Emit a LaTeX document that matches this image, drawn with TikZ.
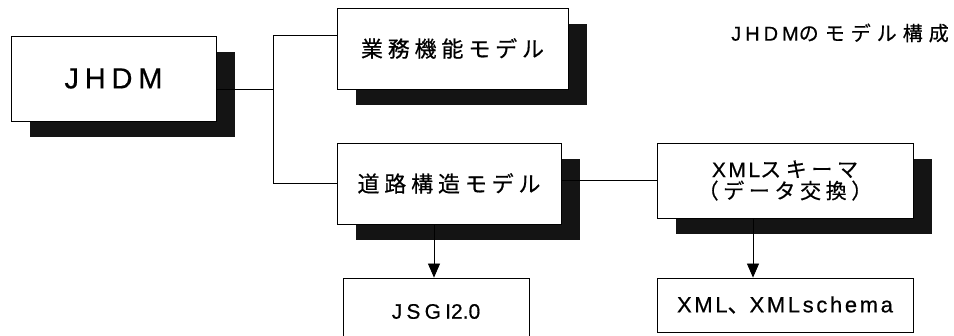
\documentclass[tikz,border=0pt]{standalone}
\usepackage{fontspec}
\setmainfont{Noto Sans CJK JP}
\newfontfamily\jpn[LetterSpace=22,FakeBold=0.5]{Noto Sans CJK JP}
\newfontfamily\jpnw[LetterSpace=30,FakeBold=0.5]{Noto Sans CJK JP}
\newfontfamily\lat[LetterSpace=20,FakeBold=0.5]{Liberation Sans}
\newfontfamily\latb[LetterSpace=12,FakeBold=0.5]{Liberation Sans}
\newfontfamily\latn[FakeBold=0.5]{Liberation Sans}
\usetikzlibrary{shadows,arrows.meta}
\tikzset{
  box/.style={draw, line width=0.8pt, fill=white, inner sep=0pt, align=center},
  shbox/.style={box, drop shadow={shadow xshift=19pt, shadow yshift=-16.5pt, opacity=1, fill=black!92}},
  conn/.style={line width=0.8pt},
  arr/.style={line width=0.8pt, -{Triangle[width=12pt,length=14pt]}}
}
\begin{document}
\begin{tikzpicture}[x=1pt,y=-1pt]
\useasboundingbox (0,0) rectangle (954,336);
\node[shbox, minimum width=205pt, minimum height=85pt, font=\fontsize{29}{30}\selectfont] (jhdm) at (113.5,78.5) {\lat JHDM};
\node[shbox, minimum width=231pt, minimum height=81pt, font=\fontsize{22}{24}\selectfont] (gyomu) at (452.5,48.5) {\jpn 業務機能モデル};
\node[shbox, minimum width=224pt, minimum height=81pt, font=\fontsize{22}{24}\selectfont] (doro) at (449,183.5) {\jpn 道路構造モデル};
\node[shbox, minimum width=256pt, minimum height=75pt, font=\fontsize{21}{21.5}\selectfont] (xmls) at (785,180.5) {{\latb XML}{\jpn スキーマ}\\{\jpn （データ交換）}};
\node[box, minimum width=186pt, minimum height=67pt, font=\fontsize{21}{23}\selectfont] (jsgi) at (436,311.5) {{\lat JSGI}{\latn 2.0}};
\node[box, minimum width=256pt, minimum height=54pt, font=\fontsize{22}{24}\selectfont] (xsch) at (785,305) {{\latb XML}{\jpn 、}{\latb XMLschema}};
\node[font=\fontsize{20}{22}\selectfont] (title) at (840,33) {{\lat JHDM}{\jpnw のモデル構成}};
\coordinate (jn) at (273,89);
\draw[conn] ([yshift=-10.5pt]jhdm.east) -- (jn);
\draw[conn] ([yshift=13.5pt]gyomu.west) -| (jn |- doro.west) -- (doro.west);
\draw[conn] (doro.east |- xmls.west) -- (xmls.west);
\draw[arr] ([xshift=-2pt]jsgi.north |- doro.south) -- ([xshift=-2pt]jsgi.north);
\draw[arr] ([xshift=-32pt]xmls.south) -- ([xshift=-32pt]xsch.north);
\end{tikzpicture}
\end{document}
